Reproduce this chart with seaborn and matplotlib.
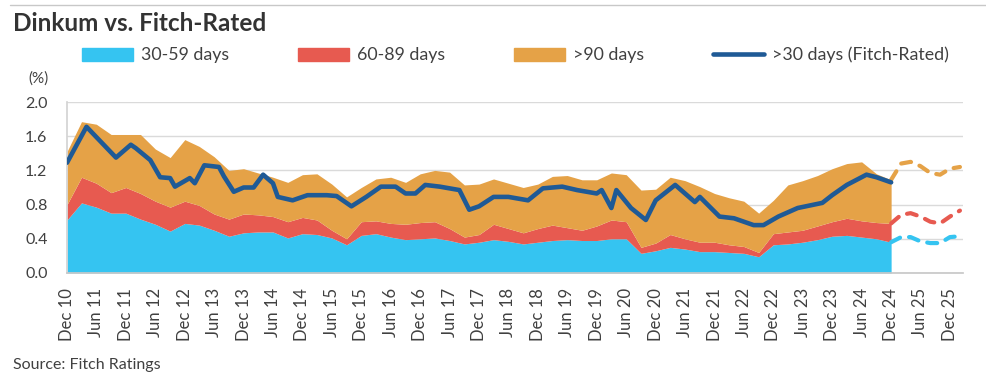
import pandas as pd
import numpy as np
import matplotlib
matplotlib.use("Agg")
import matplotlib.pyplot as plt
from matplotlib.patches import Patch
from matplotlib.lines import Line2D
import seaborn as sns

# --- données (en %) ---
# aires empilées : points trimestriels, déc. 2010 -> déc. 2024
area_dates = pd.date_range("2010-12-01", "2024-12-01", freq="3MS")

days_30_59 = [0.62, 0.82, 0.77, 0.70, 0.70, 0.63, 0.57, 0.49, 0.58, 0.56,
              0.50, 0.43, 0.47, 0.48, 0.48, 0.41, 0.46, 0.45, 0.41, 0.33,
              0.44, 0.46, 0.42, 0.39, 0.40, 0.41, 0.38, 0.34, 0.36, 0.39,
              0.37, 0.34, 0.36, 0.38, 0.39, 0.38, 0.38, 0.40, 0.40, 0.23,
              0.26, 0.30, 0.28, 0.25, 0.25, 0.24, 0.23, 0.19, 0.33, 0.34,
              0.36, 0.39, 0.43, 0.44, 0.42, 0.40, 0.36]
days_60_89 = [0.18, 0.30, 0.28, 0.24, 0.30, 0.30, 0.27, 0.28, 0.26, 0.23,
              0.19, 0.20, 0.22, 0.20, 0.18, 0.19, 0.19, 0.17, 0.09, 0.07,
              0.16, 0.15, 0.16, 0.18, 0.19, 0.19, 0.14, 0.08, 0.09, 0.18,
              0.15, 0.13, 0.16, 0.18, 0.14, 0.12, 0.17, 0.22, 0.20, 0.07,
              0.09, 0.15, 0.12, 0.11, 0.11, 0.09, 0.08, 0.05, 0.13, 0.14,
              0.14, 0.16, 0.17, 0.20, 0.19, 0.19, 0.22]
days_90_plus = [0.62, 0.65, 0.69, 0.68, 0.62, 0.69, 0.61, 0.58, 0.72, 0.69,
                0.67, 0.57, 0.53, 0.49, 0.46, 0.46, 0.50, 0.54, 0.54, 0.49,
                0.40, 0.49, 0.54, 0.49, 0.57, 0.60, 0.66, 0.61, 0.59, 0.53,
                0.53, 0.53, 0.52, 0.57, 0.61, 0.59, 0.54, 0.55, 0.55, 0.67,
                0.63, 0.67, 0.68, 0.65, 0.57, 0.55, 0.53, 0.46, 0.39, 0.55,
                0.58, 0.59, 0.62, 0.64, 0.69, 0.57, 0.51]

# courbe >30 jours (Fitch-Rated)
line_dates = ["2010-12", "2011-04", "2011-10", "2012-01", "2012-02", "2012-05",
              "2012-07", "2012-09", "2012-10", "2013-01", "2013-02", "2013-04",
              "2013-07", "2013-08", "2013-10", "2013-12", "2014-02", "2014-04",
              "2014-06", "2014-07", "2014-10", "2015-01", "2015-05", "2015-07",
              "2015-10", "2016-01", "2016-04", "2016-07", "2016-09", "2016-11",
              "2017-01", "2017-04", "2017-08", "2017-10", "2017-12", "2018-03",
              "2018-06", "2018-10", "2019-01", "2019-05", "2019-08", "2019-12",
              "2020-01", "2020-03", "2020-04", "2020-07", "2020-10", "2020-12",
              "2021-04", "2021-08", "2021-09", "2022-01", "2022-04", "2022-08",
              "2022-10", "2023-01", "2023-05", "2023-10", "2023-12", "2024-03",
              "2024-07", "2024-09", "2024-12"]
fitch_30_plus = [1.29, 1.71, 1.35, 1.50, 1.46, 1.32, 1.12, 1.11, 1.01, 1.11,
                 1.05, 1.26, 1.24, 1.13, 0.95, 1.00, 1.00, 1.15, 1.05, 0.89,
                 0.85, 0.91, 0.91, 0.90, 0.78, 0.89, 1.01, 1.01, 0.93, 0.93,
                 1.03, 1.01, 0.97, 0.74, 0.78, 0.89, 0.89, 0.85, 0.99, 1.01,
                 0.97, 0.93, 0.97, 0.76, 0.97, 0.76, 0.62, 0.85, 1.03, 0.83,
                 0.89, 0.66, 0.64, 0.56, 0.56, 0.66, 0.76, 0.82, 0.91, 1.03,
                 1.15, 1.12, 1.06]

# prévisions (pointillés)
fc_dates = ["2024-12", "2025-02", "2025-04", "2025-06", "2025-08", "2025-10",
            "2025-12", "2026-02"]
fc_30_59 = [0.36, 0.42, 0.42, 0.37, 0.35, 0.35, 0.42, 0.43]
fc_60_89 = [0.22, 0.26, 0.28, 0.29, 0.25, 0.23, 0.24, 0.30]
fc_90_plus = [0.51, 0.60, 0.60, 0.59, 0.57, 0.57, 0.56, 0.51]

tick_dates = pd.date_range("2010-12-01", "2025-12-01", freq="6MS")

C_BLUE = "#35c4f1"
C_RED = "#e75a50"
C_ORANGE = "#e5a247"
C_NAVY = "#1f5a96"
TXT = "#404040"

sns.set_theme(style="white")
plt.rcParams["font.family"] = ["Lato", "DejaVu Sans"]

fig = plt.figure(figsize=(9.87, 3.79), dpi=100)
ax = fig.add_axes([67 / 987, 1 - 273 / 379, (963 - 67) / 987, (273 - 102) / 379])

# aires empilées
areas = pd.DataFrame({"30-59 days": days_30_59, "60-89 days": days_60_89,
                      ">90 days": days_90_plus}, index=area_dates)
ax.stackplot(areas.index, areas["30-59 days"], areas["60-89 days"], areas[">90 days"],
             colors=[C_BLUE, C_RED, C_ORANGE], linewidth=0, zorder=2)

# prévisions en cumul
fc = pd.DataFrame({"date": pd.to_datetime(fc_dates), "a": fc_30_59, "b": fc_60_89, "c": fc_90_plus})
fc["lvl1"] = fc["a"]
fc["lvl2"] = fc["a"] + fc["b"]
fc["lvl3"] = fc["lvl2"] + fc["c"]
for col, color in [("lvl1", C_BLUE), ("lvl2", C_RED), ("lvl3", C_ORANGE)]:
    sns.lineplot(data=fc, x="date", y=col, ax=ax, color=color, linewidth=3.0,
                 linestyle=(0, (2.4, 2.2)), dash_capstyle="round", zorder=3)

line_df = pd.DataFrame({"date": pd.to_datetime(line_dates), "value": fitch_30_plus})
sns.lineplot(data=line_df, x="date", y="value", ax=ax, color=C_NAVY, linewidth=3.3,
             solid_joinstyle="round", solid_capstyle="round", zorder=4)

# axes
ax.set_xlim(pd.Timestamp("2010-12-01"), pd.Timestamp("2026-02-20"))
ax.set_ylim(0, 2.0)
ax.set_yticks(np.arange(0, 2.01, 0.4))
ax.set_yticklabels([f"{v:.1f}" for v in np.arange(0, 2.01, 0.4)])
ax.set_xticks(tick_dates)
ax.set_xticklabels([d.strftime("%b %y") for d in tick_dates], rotation=90)
ax.set_xlabel("")
ax.set_ylabel("")
ax.tick_params(axis="x", length=0, pad=11, labelsize=12, labelcolor=TXT)
ax.tick_params(axis="y", length=0, pad=14, labelsize=11.5, labelcolor=TXT)
ax.yaxis.grid(True, color="#dadada", linewidth=1)
ax.set_axisbelow(True)
for side in ["top", "right"]:
    ax.spines[side].set_visible(False)
ax.spines["left"].set_color("#d4d4d4")
ax.spines["bottom"].set_color("#c8c8c8")

# légende
handles = [Patch(color=C_BLUE), Patch(color=C_RED), Patch(color=C_ORANGE),
           Line2D([], [], color=C_NAVY, linewidth=3.3, solid_capstyle="round")]
labels = ["30-59 days", "60-89 days", ">90 days", ">30 days (Fitch-Rated)"]
fig.legend(handles, labels, loc="center left", bbox_to_anchor=(82 / 987, 1 - 55 / 379),
           ncol=4, frameon=False, fontsize=12.8, handlelength=2.85, handleheight=0.75,
           handletextpad=0.45, columnspacing=3.9, borderpad=0, borderaxespad=0,
           labelcolor=TXT)

# textes
fig.text(13 / 987, 1 - 31 / 379, "Dinkum vs. Fitch-Rated", fontsize=17.5,
         fontweight="bold", color="#333333", va="baseline")
fig.text(39 / 987, 1 - 79 / 379, "(%)", fontsize=11, color=TXT, ha="center", va="center")
fig.text(13 / 987, 1 - 369 / 379, "Source: Fitch Ratings", fontsize=11.5, color=TXT,
         va="baseline")
fig.add_artist(Line2D([10 / 987, 1], [1 - 5 / 379, 1 - 5 / 379], color="#c8c8c8",
                      linewidth=1, transform=fig.transFigure))

fig.savefig("out.png", dpi=100)
